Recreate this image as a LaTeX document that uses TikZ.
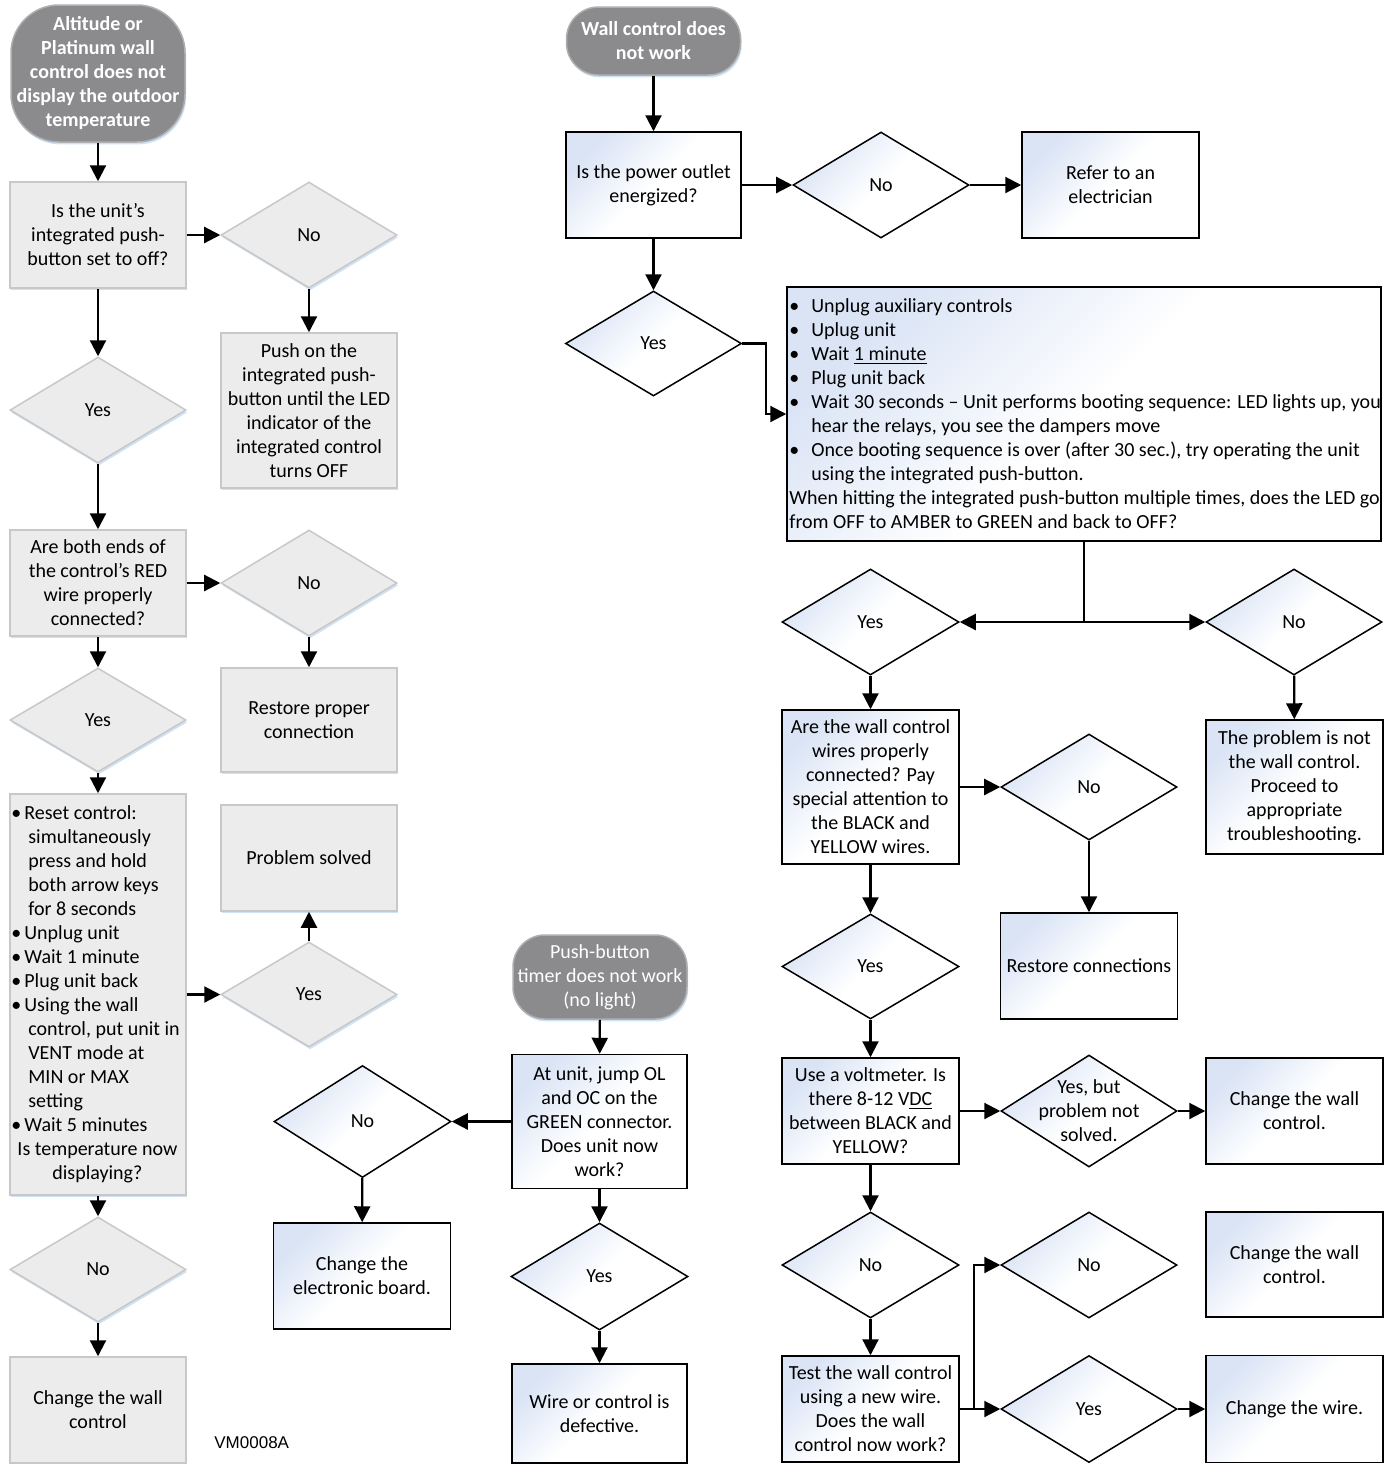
\documentclass[tikz,border=0pt]{standalone}
\usepackage{fontspec}
\setmainfont{Carlito}
\newfontfamily\arialfont{Liberation Sans}
\usetikzlibrary{arrows.meta,shapes.geometric,shadows}
\definecolor{termgray}{RGB}{139,139,141}
\definecolor{termedge}{RGB}{175,175,177}
\definecolor{lgfill}{RGB}{236,236,236}
\definecolor{lgedge}{RGB}{200,200,200}
\definecolor{shblue}{RGB}{195,218,242}
\definecolor{bluetint}{RGB}{218,228,245}
\newcommand\bitem[1]{\makebox[#1][l]{•}}
\tikzset{
 base/.style={font=\fontsize{10}{12}\selectfont, align=center, inner sep=0pt},
 glow/.style={drop shadow={shadow xshift=0.6pt, shadow yshift=-1.2pt, fill=shblue, opacity=0.8}},
 term/.style={base, rectangle, rounded corners=16pt, fill=termgray, draw=termedge, line width=0.75pt, text=white, minimum width=87pt, glow},
 lgbox/.style={base, rectangle, fill=lgfill, draw=lgedge, line width=0.75pt, minimum width=88pt, minimum height=53pt, glow},
 lgdia/.style={base, diamond, fill=lgfill, draw=lgedge, line width=0.75pt, minimum width=88pt, minimum height=53pt, glow},
 bbox/.style={base, rectangle, draw=black, line width=0.75pt, top color=bluetint, bottom color=white, shading angle=45, middle color=white, minimum width=88.5pt, minimum height=53pt},
 bdia/.style={base, diamond, draw=black, line width=0.75pt, top color=bluetint, bottom color=white, shading angle=45, middle color=white, minimum width=88pt, minimum height=53pt},
 arr/.style={line width=1.1pt, -{Triangle[length=8pt,width=8pt]}},
 ln/.style={line width=1.1pt},
}
\begin{document}
\begin{tikzpicture}[x=0.5pt, y=-0.5pt]
\fill[white] (0,0) rectangle (1391,1464);
\useasboundingbox (0,0) rectangle (1391,1464);

% ---------- left column ----------
\node[term, rounded corners=24pt, minimum height=68.5pt, font=\fontsize{10}{12}\selectfont\bfseries] (t1) at (98,73.5)
  {Altitude or\\Platinum wall\\control does not\\display the outdoor\\temperature};
\node[lgbox] (b1) at (98,235) {Is the unit’s\\integrated push-\\button set to off?};
\node[lgdia] (n1) at (309,235) {No};
\node[lgbox, minimum height=77.5pt] (push) at (309,410.5)
  {Push on the\\integrated push-\\button until the LED\\indicator of the\\integrated control\\turns OFF};
\node[lgdia] (y1) at (98,410) {Yes};
\node[lgbox] (b2) at (98,583) {Are both ends of\\the control’s RED\\wire properly\\connected?};
\node[lgdia] (n2) at (309,583) {No};
\node[lgbox, minimum height=52pt] (rp) at (309,720) {Restore proper\\connection};
\node[lgdia, minimum height=52pt] (y2) at (98,720) {Yes};
\node[lgbox, minimum height=200.5pt] (b3) at (98,994.5) {};
\node[base, anchor=west, align=left] (b3txt) at (11,994.5)
  {\bitem{6.5pt}Reset control:\\
   \hspace*{8.5pt}simultaneously\\
   \hspace*{8.5pt}press and hold\\
   \hspace*{8.5pt}both arrow keys\\
   \hspace*{8.5pt}for 8 seconds\\
   \bitem{6.5pt}Unplug unit\\
   \bitem{6.5pt}Wait 1 minute\\
   \bitem{6.5pt}Plug unit back\\
   \bitem{6.5pt}Using the wall\\
   \hspace*{8.5pt}control, put unit in\\
   \hspace*{8.5pt}VENT mode at\\
   \hspace*{8.5pt}MIN or MAX\\
   \hspace*{8.5pt}setting\\
   \bitem{6.5pt}Wait 5 minutes\\
   \makebox[86pt][c]{Is temperature now}\\
   \makebox[86pt][c]{displaying?}};
\node[lgdia, minimum height=52.5pt] (y3) at (309,994.5) {Yes};
\node[lgbox] (ps) at (309,858) {Problem solved};
\node[lgdia, minimum height=52.5pt] (n3) at (98,1269.5) {No};
\node[lgbox] (cw) at (98,1410) {Change the wall\\control};
\node[anchor=west, inner sep=0pt, font=\arialfont\fontsize{8.5}{10}\selectfont] (vm) at (214,1443) {VM0008A};

\draw[arr] (t1) -- (b1);
\draw[arr] (b1) -- (n1);
\draw[arr] (n1) -- (push);
\draw[arr] (b1) -- (y1);
\draw[arr] (y1) -- (b2);
\draw[arr] (b2) -- (n2);
\draw[arr] (n2) -- (rp);
\draw[arr] (b2) -- (y2);
\draw[arr] (y2) -- (b3);
\draw[arr] (b3) -- (y3);
\draw[arr] (y3) -- (ps);
\draw[arr] (b3) -- (n3);
\draw[arr] (n3) -- (cw);

% ---------- middle column ----------
\node[term, minimum height=42pt] (t2) at (600,977) {Push-button\\timer does not work\\(no light)};
\node[bbox, minimum height=67pt, minimum width=87.5pt] (bA) at (599.5,1121.5)
  {At unit, jump OL\\and OC on the\\GREEN connector.\\Does unit now\\work?};
\node[bdia, minimum width=88.5pt, minimum height=56pt] (nA) at (362.5,1121.5) {No};
\node[bbox] (cb) at (362,1276) {Change the\\electronic board.};
\node[bdia, minimum width=88.5pt, minimum height=53.5pt] (yA) at (599.5,1276.5) {Yes};
\node[bbox, minimum width=87.5pt, minimum height=49.5pt] (wd) at (599.5,1413.5) {Wire or control is\\defective.};

\draw[arr] (t2) -- (bA);
\draw[arr] (bA) -- (nA);
\draw[arr] (nA) -- (cb);
\draw[arr] (bA) -- (yA);
\draw[arr] (yA) -- (wd);

% ---------- right part ----------
\node[term, minimum height=34pt, font=\fontsize{10}{12}\selectfont\bfseries] (t3) at (653.5,41) {Wall control does\\not work};
\node[bbox, minimum width=87.5pt] (bP) at (653.5,185) {Is the power outlet\\energized?};
\node[bdia] (nP) at (881,185) {No};
\node[bbox] (ref) at (1110.5,185) {Refer to an\\electrician};
\node[bdia, minimum height=52.5pt] (yP) at (653.5,343.5) {Yes};
\node[bbox, minimum width=297pt, minimum height=127pt] (big) at (1084,414) {};
\node[base, anchor=west, align=left] (bigtxt) at (789,414)
  {\bitem{11pt}Unplug auxiliary controls\\
   \bitem{11pt}Uplug unit\\
   \bitem{11pt}Wait \underline{1 minute}\\
   \bitem{11pt}Plug unit back\\
   \bitem{11pt}Wait 30 seconds – Unit performs booting sequence: LED lights up, you\\
   \hspace*{11pt}hear the relays, you see the dampers move\\
   \bitem{11pt}Once booting sequence is over (after 30 sec.), try operating the unit\\
   \hspace*{11pt}using the integrated push-button.\\
   When hitting the integrated push-button multiple times, does the LED go\\
   from OFF to AMBER to GREEN and back to OFF?};
\coordinate (split) at (1084,622);
\node[bdia, minimum width=88.5pt] (y4) at (870.5,622) {Yes};
\node[bdia] (n4) at (1294,622) {No};
\node[bbox, minimum height=67pt] (prob) at (1294.5,787)
  {The problem is not\\the wall control.\\Proceed to\\appropriate\\troubleshooting.};
\node[bbox, minimum height=77pt] (bW) at (870.5,787)
  {Are the wall control\\wires properly\\connected? Pay\\special attention to\\the BLACK and\\YELLOW wires.};
\node[bdia] (n5) at (1089,787) {No};
\node[bbox] (rc) at (1089,966) {Restore connections};
\node[bdia, minimum width=88.5pt, minimum height=52.5pt] (y5) at (870.5,966.5) {Yes};
\node[bbox] (bV) at (870.5,1111) {Use a voltmeter. Is\\there 8-12 V\underline{DC}\\between BLACK and\\YELLOW?};
\node[bdia, minimum height=56pt, label={[base]center:{Yes, but\\problem not\\solved.}}] (yb) at (1089,1111) {};
\node[bbox] (cw2) at (1294.5,1111) {Change the wall\\control.};
\node[bdia, minimum width=88.5pt] (n6) at (870.5,1265) {No};
\node[bbox] (bT) at (870.5,1409) {Test the wall control\\using a new wire.\\Does the wall\\control now work?};
\node[bdia] (n7) at (1089,1265) {No};
\node[bbox, minimum height=52.5pt] (cw3) at (1294.5,1264.5) {Change the wall\\control.};
\node[bdia, minimum height=53.5pt] (y7) at (1089,1409) {Yes};
\node[bbox, minimum height=53.5pt] (cwire) at (1294.5,1409) {Change the wire.};
\coordinate (tj) at (974,1409);

\draw[arr] (t3) -- (bP);
\draw[arr] (bP) -- (nP);
\draw[arr] (nP) -- (ref);
\draw[arr] (bP) -- (yP);
\draw[arr] (yP.east) -- ++(24,0) |- (big.west);
\draw[ln] (big.south) -- (split);
\draw[arr] (split) -- (y4);
\draw[arr] (split) -- (n4);
\draw[arr] (n4) -- (prob);
\draw[arr] (y4) -- (bW);
\draw[arr] (bW) -- (n5);
\draw[arr] (n5) -- (rc);
\draw[arr] (bW) -- (y5);
\draw[arr] (y5) -- (bV);
\draw[arr] (bV) -- (yb);
\draw[arr] (yb) -- (cw2);
\draw[arr] (bV) -- (n6);
\draw[arr] (n6) -- (bT);
\draw[arr] (bT) -- (y7);
\draw[arr] (tj) |- (n7);
\draw[arr] (y7) -- (cwire);
\end{tikzpicture}
\end{document}
